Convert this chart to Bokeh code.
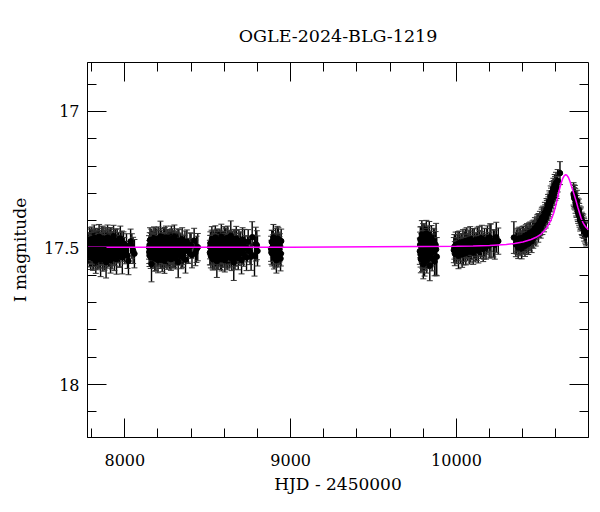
from bokeh.plotting import figure
from bokeh.models import (Range1d, FixedTicker, LinearAxis, NumeralTickFormatter,
                          ColumnDataSource, Whisker, TeeHead)
from bokeh.embed import file_html
from bokeh.resources import INLINE

# ---------------- data (HJD-2450000, I mag, error) ----------------
season1 = [(7781,17.512,0.044),(7784,17.486,0.041),(7786,17.523,0.046),(7789,17.497,0.040),(7792,17.474,0.043),
 (7794,17.531,0.048),(7797,17.505,0.042),(7800,17.468,0.045),(7803,17.519,0.041),(7805,17.491,0.056),
 (7808,17.538,0.044),(7811,17.479,0.040),(7814,17.508,0.043),(7816,17.463,0.047),(7819,17.526,0.042),
 (7822,17.495,0.041),(7825,17.547,0.046),(7828,17.482,0.044),(7831,17.515,0.040),(7833,17.472,0.043),
 (7836,17.501,0.051),(7839,17.534,0.042),(7842,17.488,0.041),(7845,17.459,0.045),(7848,17.521,0.043),
 (7851,17.496,0.040),(7854,17.543,0.062),(7857,17.477,0.042),(7860,17.509,0.044),(7863,17.485,0.041),
 (7866,17.528,0.046),(7869,17.466,0.043),(7872,17.514,0.040),(7875,17.493,0.042),(7878,17.536,0.045),
 (7881,17.471,0.044),(7884,17.504,0.041),(7887,17.552,0.058),(7890,17.483,0.042),(7893,17.518,0.040),
 (7896,17.462,0.046),(7899,17.498,0.043),(7902,17.527,0.041),(7905,17.476,0.044),(7908,17.511,0.042),
 (7911,17.489,0.040),(7914,17.545,0.047),(7917,17.469,0.043),(7920,17.503,0.041),(7923,17.532,0.045),
 (7926,17.481,0.042),(7929,17.516,0.044),(7932,17.457,0.040),(7935,17.494,0.043),(7939,17.524,0.041),
 (7942,17.478,0.046),(7946,17.507,0.042),(7950,17.541,0.055),(7954,17.473,0.043),(7958,17.512,0.041),
 (7963,17.487,0.044),(7968,17.529,0.042),(7973,17.465,0.045),(7979,17.502,0.040),(7985,17.535,0.060),
 (7992,17.484,0.043),(8000,17.517,0.041),(8010,17.492,0.044),(8022,17.548,0.050),(8035,17.476,0.045),
 (8050,17.509,0.048),
 (7782.5,17.493,0.043),(7787.5,17.471,0.045),(7790.5,17.516,0.041),(7795.5,17.488,0.044),(7798.5,17.527,0.042),
 (7801.5,17.501,0.046),(7806.5,17.476,0.043),(7809.5,17.514,0.041),(7812.5,17.532,0.045),(7817.5,17.484,0.042),
 (7820.5,17.505,0.044),(7823.5,17.469,0.041),(7826.5,17.521,0.046),(7829.5,17.497,0.043),(7834.5,17.538,0.042),
 (7837.5,17.481,0.044),(7840.5,17.512,0.041),(7843.5,17.474,0.045),(7846.5,17.503,0.042),(7849.5,17.529,0.044),
 (7852.5,17.487,0.041),(7858.5,17.518,0.043),(7861.5,17.466,0.046),(7864.5,17.499,0.042),(7867.5,17.541,0.044),
 (7870.5,17.483,0.041),(7876.5,17.509,0.045),(7879.5,17.522,0.043),(7882.5,17.478,0.042),(7888.5,17.496,0.044),
 (7891.5,17.533,0.041),(7894.5,17.471,0.045),(7897.5,17.515,0.042),(7903.5,17.489,0.044),(7906.5,17.526,0.043),
 (7912.5,17.468,0.041),(7915.5,17.507,0.045),(7921.5,17.486,0.042),(7924.5,17.519,0.044),(7930.5,17.492,0.041),
 (7937.5,17.537,0.046),(7944.5,17.475,0.043),(7952.5,17.513,0.042),(7960.5,17.498,0.044),(7970.5,17.524,0.045),
 (7982.5,17.481,0.043),(7996.5,17.506,0.044),(8016.5,17.529,0.046),(8042.5,17.493,0.045),(8058,17.521,0.052)]

season2 = [(8146,17.498,0.043),(8149,17.527,0.041),(8152,17.471,0.045),(8155,17.514,0.042),(8158,17.486,0.040),
 (8161,17.559,0.065),(8164,17.503,0.044),(8167,17.478,0.041),(8170,17.531,0.043),(8173,17.493,0.046),
 (8176,17.465,0.042),(8179,17.519,0.040),(8182,17.507,0.044),(8185,17.482,0.041),(8188,17.538,0.045),
 (8191,17.474,0.043),(8194,17.511,0.040),(8197,17.496,0.042),(8200,17.544,0.047),(8203,17.467,0.044),
 (8206,17.522,0.041),(8209,17.489,0.043),(8212,17.505,0.040),(8215,17.458,0.056),(8218,17.533,0.042),
 (8221,17.481,0.044),(8224,17.516,0.041),(8227,17.492,0.045),(8230,17.528,0.043),(8233,17.469,0.040),
 (8236,17.508,0.042),(8239,17.547,0.046),(8242,17.485,0.041),(8245,17.519,0.044),(8248,17.463,0.043),
 (8251,17.501,0.040),(8254,17.536,0.042),(8257,17.477,0.045),(8260,17.512,0.041),(8263,17.494,0.054),
 (8266,17.525,0.043),(8269,17.472,0.040),(8272,17.509,0.044),(8275,17.487,0.042),(8278,17.541,0.041),
 (8281,17.466,0.046),(8284,17.518,0.043),(8287,17.499,0.040),(8290,17.529,0.044),(8293,17.479,0.042),
 (8296,17.513,0.041),(8299,17.461,0.045),(8302,17.504,0.043),(8306,17.537,0.040),(8310,17.483,0.044),
 (8314,17.521,0.042),(8318,17.491,0.046),(8322,17.551,0.058),(8326,17.474,0.041),(8330,17.507,0.043),
 (8335,17.486,0.040),(8340,17.532,0.044),(8346,17.468,0.042),(8352,17.515,0.045),(8359,17.495,0.041),
 (8366,17.543,0.049),(8374,17.477,0.043),(8383,17.511,0.046),(8393,17.489,0.044),(8405,17.526,0.047),
 (8418,17.473,0.045),(8432,17.505,0.048),
 (8147.5,17.515,0.042),(8150.5,17.488,0.044),(8156.5,17.534,0.041),(8159.5,17.476,0.045),(8162.5,17.507,0.043),
 (8168.5,17.492,0.042),(8171.5,17.521,0.044),(8177.5,17.483,0.041),(8180.5,17.539,0.046),(8186.5,17.469,0.043),
 (8189.5,17.512,0.042),(8195.5,17.497,0.044),(8198.5,17.526,0.041),(8204.5,17.481,0.045),(8207.5,17.506,0.042),
 (8213.5,17.531,0.044),(8216.5,17.473,0.043),(8222.5,17.499,0.041),(8225.5,17.542,0.045),(8231.5,17.486,0.042),
 (8234.5,17.517,0.044),(8240.5,17.466,0.041),(8243.5,17.503,0.046),(8249.5,17.528,0.043),(8252.5,17.491,0.042),
 (8258.5,17.523,0.044),(8261.5,17.478,0.041),(8267.5,17.508,0.045),(8270.5,17.535,0.042),(8276.5,17.482,0.044),
 (8279.5,17.514,0.043),(8285.5,17.471,0.041),(8291.5,17.502,0.045),(8297.5,17.529,0.042),(8304.5,17.488,0.044),
 (8312.5,17.511,0.041),(8320.5,17.476,0.046),(8328.5,17.519,0.043),(8337.5,17.494,0.042),(8349.5,17.527,0.044),
 (8362.5,17.483,0.045),(8378.5,17.509,0.043),(8399.5,17.492,0.046),(8425.5,17.518,0.047),(8440,17.497,0.050)]

season3 = [(8513,17.517,0.045),(8516,17.483,0.042),(8519,17.529,0.044),(8522,17.495,0.041),(8525,17.468,0.046),
 (8528,17.512,0.043),(8531,17.541,0.040),(8534,17.479,0.044),(8537,17.506,0.042),(8540,17.488,0.041),
 (8543,17.533,0.045),(8546,17.462,0.043),(8549,17.519,0.040),(8552,17.497,0.044),(8555,17.548,0.060),
 (8558,17.476,0.042),(8561,17.509,0.041),(8564,17.485,0.045),(8567,17.524,0.043),(8570,17.471,0.040),
 (8573,17.502,0.044),(8576,17.537,0.042),(8579,17.491,0.041),(8582,17.459,0.046),(8585,17.516,0.043),
 (8588,17.494,0.040),(8591,17.527,0.044),(8594,17.481,0.042),(8597,17.511,0.041),(8600,17.467,0.045),
 (8603,17.545,0.043),(8606,17.499,0.040),(8609,17.474,0.044),(8612,17.521,0.042),(8615,17.487,0.041),
 (8618,17.534,0.046),(8621,17.463,0.043),(8624,17.508,0.040),(8627,17.492,0.044),(8630,17.531,0.042),
 (8633,17.478,0.041),(8636,17.514,0.045),(8639,17.456,0.055),(8642,17.503,0.040),(8645,17.539,0.044),
 (8648,17.484,0.042),(8651,17.518,0.041),(8654,17.496,0.045),(8657,17.553,0.066),(8660,17.472,0.040),
 (8663,17.506,0.044),(8666,17.489,0.042),(8669,17.526,0.041),(8672,17.466,0.045),(8676,17.513,0.043),
 (8680,17.493,0.040),(8684,17.536,0.044),(8688,17.475,0.042),(8693,17.510,0.046),(8698,17.482,0.041),
 (8704,17.544,0.051),(8710,17.469,0.043),(8717,17.522,0.045),(8725,17.497,0.042),(8734,17.535,0.048),
 (8744,17.477,0.044),(8755,17.515,0.046),(8768,17.461,0.057),(8782,17.528,0.075),(8796,17.490,0.053),
 (8514.5,17.497,0.043),(8517.5,17.521,0.041),(8523.5,17.479,0.044),(8526.5,17.508,0.042),(8529.5,17.532,0.045),
 (8535.5,17.491,0.041),(8538.5,17.516,0.043),(8544.5,17.485,0.044),(8547.5,17.527,0.042),(8553.5,17.472,0.041),
 (8556.5,17.503,0.045),(8562.5,17.536,0.043),(8565.5,17.494,0.042),(8571.5,17.518,0.044),(8574.5,17.476,0.041),
 (8580.5,17.509,0.046),(8583.5,17.541,0.043),(8589.5,17.483,0.042),(8592.5,17.513,0.044),(8598.5,17.488,0.041),
 (8601.5,17.524,0.045),(8607.5,17.469,0.042),(8610.5,17.505,0.044),(8616.5,17.531,0.043),(8619.5,17.492,0.041),
 (8625.5,17.515,0.045),(8628.5,17.477,0.042),(8634.5,17.501,0.044),(8640.5,17.528,0.041),(8646.5,17.486,0.046),
 (8652.5,17.512,0.043),(8658.5,17.496,0.042),(8664.5,17.534,0.044),(8670.5,17.481,0.045),(8678.5,17.507,0.043),
 (8686.5,17.522,0.042),(8695.5,17.489,0.044),(8707.5,17.515,0.045),(8721.5,17.478,0.046),(8739.5,17.504,0.047),
 (8761.5,17.532,0.050),(8789.5,17.486,0.062),(8800,17.511,0.055)]

season4 = [(8882,17.503,0.046),(8886,17.478,0.043),(8889,17.521,0.045),(8893,17.494,0.042),(8896,17.462,0.048),
 (8900,17.533,0.044),(8903,17.487,0.041),(8907,17.512,0.046),(8910,17.471,0.043),(8914,17.545,0.047),
 (8917,17.498,0.042),(8921,17.466,0.045),(8924,17.526,0.044),(8928,17.483,0.041),(8931,17.515,0.046),
 (8935,17.491,0.043),(8939,17.539,0.045),(8943,17.475,0.044),
 (8884,17.516,0.044),(8891,17.481,0.045),(8898,17.507,0.043),(8905,17.524,0.046),(8912,17.493,0.044),
 (8919,17.512,0.045),(8926,17.469,0.043),(8933,17.505,0.046),(8941,17.521,0.045)]

season5 = [(9779,17.512,0.048),(9782,17.468,0.045),(9785,17.541,0.050),(9788,17.493,0.046),(9791,17.452,0.052),
 (9794,17.527,0.047),(9797,17.481,0.045),(9800,17.559,0.054),(9803,17.503,0.046),(9806,17.462,0.049),
 (9809,17.535,0.047),(9812,17.487,0.045),(9815,17.518,0.051),(9818,17.447,0.048),(9821,17.546,0.046),
 (9824,17.496,0.045),(9827,17.472,0.050),(9830,17.529,0.047),(9833,17.508,0.046),(9836,17.456,0.053),
 (9839,17.565,0.055),(9842,17.484,0.045),(9845,17.521,0.048),(9849,17.465,0.047),(9853,17.538,0.046),
 (9857,17.499,0.050),(9862,17.476,0.048),(9868,17.550,0.052),(9874,17.489,0.049),(9877,17.505,0.095),
 (9881,17.532,0.070),
 (9780.5,17.489,0.047),(9783.5,17.524,0.046),(9786.5,17.471,0.049),(9789.5,17.506,0.046),(9792.5,17.538,0.048),
 (9795.5,17.498,0.045),(9798.5,17.461,0.050),(9801.5,17.517,0.046),(9804.5,17.483,0.047),(9807.5,17.551,0.052),
 (9810.5,17.494,0.045),(9813.5,17.467,0.048),(9816.5,17.529,0.046),(9819.5,17.503,0.047),(9822.5,17.478,0.049),
 (9828.5,17.512,0.046),(9834.5,17.486,0.048),(9840.5,17.523,0.047),(9847.5,17.495,0.046),(9855.5,17.516,0.049),
 (9865.5,17.481,0.050)]

season6 = [(9984,17.508,0.046),(9990,17.521,0.044),(9995,17.489,0.047),(10001,17.515,0.043),(10006,17.497,0.045),
 (10012,17.528,0.048),(10017,17.482,0.044),(10023,17.511,0.046),(10028,17.493,0.043),(10034,17.524,0.047),
 (10039,17.478,0.045),(10045,17.506,0.044),(10050,17.487,0.046),(10056,17.519,0.043),(10061,17.474,0.048),
 (10067,17.502,0.045),(10072,17.491,0.044),(10078,17.513,0.046),(10083,17.469,0.047),(10089,17.498,0.044),
 (10095,17.484,0.045),(10101,17.517,0.043),(10107,17.476,0.046),(10113,17.503,0.048),(10119,17.488,0.044),
 (10126,17.471,0.047),(10132,17.510,0.045),(10139,17.482,0.046),(10146,17.495,0.044),(10153,17.465,0.048),
 (10161,17.504,0.046),(10169,17.479,0.051),(10178,17.496,0.045),(10187,17.468,0.049),(10197,17.490,0.047),
 (10208,17.474,0.062),(10222,17.483,0.050),(10240,17.461,0.055),(10252,17.475,0.048),
 (9987,17.496,0.045),(9998,17.507,0.044),(10009,17.486,0.046),(10020,17.502,0.045),(10031,17.491,0.044),
 (10042,17.516,0.046),(10053,17.476,0.045),(10064,17.495,0.044),(10075,17.481,0.046),(10086,17.507,0.045),
 (10098,17.473,0.044),(10110,17.492,0.046),(10122,17.501,0.045),(10136,17.468,0.047),(10150,17.486,0.046),
 (10165,17.493,0.048),(10183,17.476,0.047),(10202,17.462,0.050),(10231,17.488,0.053)]

season7 = [(10346,17.462,0.058),(10358,17.487,0.045),(10366,17.471,0.043),(10372,17.498,0.041),(10378,17.466,0.042),
 (10383,17.489,0.040),(10388,17.476,0.041),(10393,17.501,0.039),(10398,17.463,0.042),(10403,17.483,0.040),
 (10408,17.470,0.041),(10413,17.492,0.039),(10418,17.457,0.042),(10423,17.479,0.040),(10428,17.462,0.041),
 (10433,17.485,0.039),(10438,17.449,0.041),(10443,17.471,0.040),(10448,17.455,0.039),(10453,17.476,0.041),
 (10458,17.441,0.040),(10463,17.462,0.039),(10468,17.447,0.041),(10473,17.428,0.039),(10478,17.453,0.040),
 (10483,17.432,0.038),(10488,17.418,0.040),(10493,17.440,0.039),(10498,17.421,0.041),(10503,17.405,0.039),
 (10508,17.426,0.038),(10513,17.398,0.040),(10518,17.412,0.039),(10523,17.385,0.038),(10528,17.401,0.040),
 (10533,17.372,0.039),(10538,17.389,0.038),(10543,17.358,0.039),(10548,17.374,0.040),(10552,17.342,0.038),
 (10556,17.361,0.039),(10560,17.329,0.038),(10564,17.346,0.040),(10568,17.312,0.039),(10572,17.330,0.038),
 (10576,17.296,0.039),(10580,17.315,0.040),(10584,17.283,0.038),(10588,17.301,0.039),(10592,17.271,0.040),
 (10596,17.288,0.038),(10600,17.262,0.039),(10604,17.279,0.040),(10610,17.254,0.041),(10624,17.226,0.042),
 (10362,17.478,0.044),(10375,17.483,0.041),(10385,17.468,0.040),(10395,17.479,0.040),(10405,17.461,0.041),
 (10415,17.473,0.040),(10425,17.452,0.041),(10435,17.466,0.040),(10445,17.444,0.039),(10455,17.458,0.040),
 (10465,17.437,0.039),(10475,17.445,0.040),(10485,17.423,0.039),(10495,17.414,0.040),(10505,17.416,0.039),
 (10515,17.391,0.040),(10525,17.393,0.039),(10535,17.381,0.039),(10545,17.366,0.040),(10554,17.352,0.039),
 (10562,17.338,0.039),(10570,17.321,0.040),(10578,17.305,0.039),(10586,17.292,0.039),(10594,17.279,0.040),
 (10602,17.271,0.039)]

season8 = [(10706,17.302,0.041),(10710,17.318,0.039),(10714,17.311,0.040),(10718,17.334,0.039),(10722,17.342,0.041),
 (10726,17.328,0.039),(10730,17.357,0.040),(10734,17.371,0.039),(10738,17.362,0.041),(10742,17.385,0.039),
 (10746,17.398,0.040),(10750,17.389,0.039),(10755,17.410,0.041),(10760,17.421,0.040),(10765,17.415,0.039),
 (10770,17.434,0.041),(10776,17.442,0.040),(10783,17.451,0.042),
 (10708,17.309,0.040),(10716,17.322,0.039),(10724,17.348,0.040),(10732,17.364,0.039),(10740,17.377,0.040),
 (10748,17.393,0.039),(10758,17.414,0.040),(10768,17.426,0.039),(10780,17.447,0.041)]

# microlensing model curve
model_t = [7775, 8500, 9000, 9500, 9800, 10000, 10100, 10200, 10300, 10350, 10400, 10450, 10480, 10510,
           10530, 10550, 10570, 10585, 10600, 10612, 10622, 10632, 10641, 10650, 10658, 10666, 10675,
           10684, 10693, 10702, 10712, 10722, 10732, 10742, 10752, 10762, 10772, 10782, 10796]
model_mag = [17.497, 17.497, 17.497, 17.496, 17.495, 17.494, 17.493, 17.491, 17.487, 17.484, 17.478,
             17.469, 17.461, 17.449, 17.437, 17.420, 17.398, 17.375, 17.342, 17.310, 17.283, 17.261,
             17.245, 17.235, 17.232, 17.234, 17.242, 17.256, 17.273, 17.290, 17.310, 17.330, 17.352,
             17.372, 17.392, 17.406, 17.417, 17.425, 17.433]

x_major = [8000, 9000, 10000]
x_minor = [7800, 8200, 8400, 8600, 8800, 9200, 9400, 9600, 9800, 10200, 10400, 10600]
y_major = [17.0, 17.5, 18.0]
y_minor = [16.9, 17.1, 17.2, 17.3, 17.4, 17.6, 17.7, 17.8, 17.9, 18.1]

title_text = "OGLE-2024-BLG-1219"
x_label = "HJD - 2450000"
y_label = "I magnitude"

# ---------------- build ----------------
pts = season1 + season2 + season3 + season4 + season5 + season6 + season7 + season8
t = [r[0] for r in pts]
m = [r[1] for r in pts]
e = [r[2] for r in pts]
src = ColumnDataSource(dict(t=t, m=m, lo=[a - b for a, b in zip(m, e)], hi=[a + b for a, b in zip(m, e)]))

FONT = "DejaVu Serif"

p = figure(width=600, height=512, output_backend="svg", toolbar_location=None,
           x_range=Range1d(7775, 10796), y_range=Range1d(18.194, 16.821),
           min_border_left=87, min_border_top=62, min_border_right=12, min_border_bottom=75)
p.grid.visible = False
p.background_fill_color = "white"
p.border_fill_color = "white"
p.outline_line_color = "black"
p.outline_line_width = 1

p.title.text = title_text
p.title.align = "center"
p.title.text_font = FONT
p.title.text_font_size = "17.5px"
p.title.text_font_style = "normal"
p.title.text_color = "black"
p.title.standoff = 34


def style(ax, ticks, minor):
    ax.ticker = FixedTicker(ticks=ticks, minor_ticks=minor)
    ax.major_tick_in = 19
    ax.major_tick_out = 0
    ax.minor_tick_in = 9
    ax.minor_tick_out = 0
    ax.major_tick_line_color = "black"
    ax.minor_tick_line_color = "black"
    ax.axis_line_color = "black"
    ax.major_label_text_font = FONT
    ax.major_label_text_color = "black"
    ax.major_label_text_font_size = "16px"
    ax.axis_label_text_font = FONT
    ax.axis_label_text_font_style = "normal"
    ax.axis_label_text_color = "black"
    ax.axis_label_text_font_size = "17px"


def tick_only_axis(positions, length, side):
    # axis without labels: only inside ticks (drawn as minor ticks)
    ax = LinearAxis(ticker=FixedTicker(ticks=[], minor_ticks=positions))
    ax.minor_tick_in = length
    ax.minor_tick_out = 0
    ax.major_tick_in = 0
    ax.major_tick_out = 0
    ax.minor_tick_line_color = "black"
    ax.axis_line_color = None
    ax.major_label_standoff = 0
    p.add_layout(ax, side)


xa = p.xaxis[0]
style(xa, x_major, x_minor)
xa.axis_label = x_label
xa.major_label_standoff = 16
xa.axis_label_standoff = 5
xa.formatter = NumeralTickFormatter(format="0")

ya = p.yaxis[0]
style(ya, y_major, y_minor)
ya.axis_label = y_label
ya.major_label_standoff = 8
ya.axis_label_standoff = 11
ya.formatter = NumeralTickFormatter(format="0.[0]")

tick_only_axis(x_major, 19, "above")
tick_only_axis(x_minor, 9, "above")
tick_only_axis(y_major, 19, "right")
tick_only_axis(y_minor, 9, "right")

wh = Whisker(source=src, base="t", lower="lo", upper="hi", dimension="height",
             line_color="black", line_width=1.4, level="underlay",
             upper_head=TeeHead(size=6, line_color="#333333", line_width=1),
             lower_head=TeeHead(size=6, line_color="#333333", line_width=1))
p.add_layout(wh)

p.scatter("t", "m", source=src, size=5.5, fill_color="black", line_color="black")
p.line(model_t, model_mag, line_color="#ff00ff", line_width=1.5)

open("out.html", "w").write(file_html(p, INLINE))
